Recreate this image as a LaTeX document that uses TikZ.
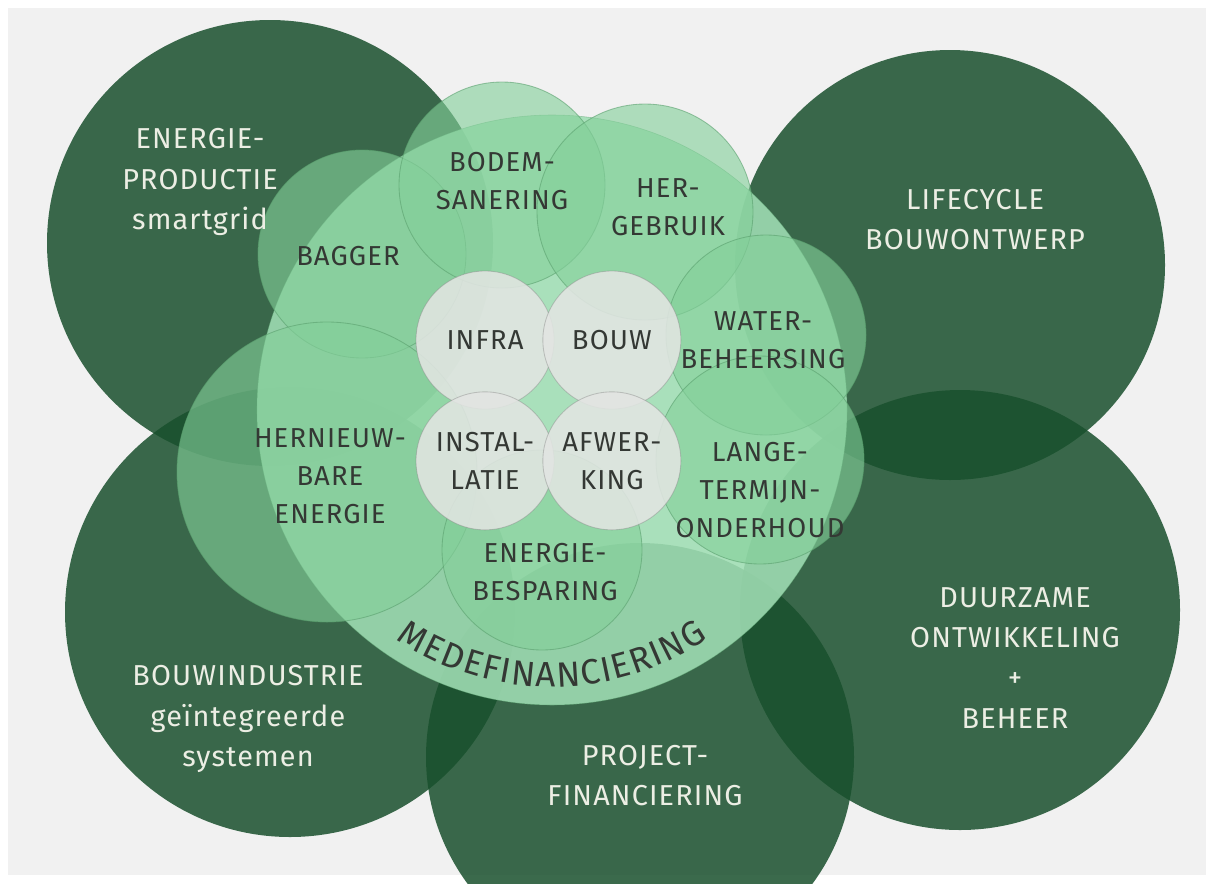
\documentclass[tikz,border=0pt]{standalone}
\usepackage{fontspec}
\setmainfont{Fira Sans}[LetterSpace=4]
\usepackage{tikz}
\usetikzlibrary{positioning,decorations.text}
\definecolor{bggrey}{RGB}{241,241,241}
\definecolor{darkgreen}{RGB}{25,80,45}
\definecolor{midgreen}{RGB}{132,208,154}
\definecolor{biggreen}{RGB}{160,222,180}
\definecolor{linegreen}{RGB}{90,160,110}
\definecolor{lightgrey}{RGB}{226,229,226}
\definecolor{txtdark}{RGB}{52,56,52}
\definecolor{txtlight}{RGB}{236,238,228}
\newcommand\lbl{\fontsize{19.5}{27}\selectfont}
\newcommand\lbll{\fontsize{20.5}{28.5}\selectfont}
\newcommand\mdfont{\fontsize{25}{30}\selectfont}
\tikzset{dark node/.style={circle,fill=darkgreen,fill opacity=0.85,minimum size=#1,inner sep=0pt},
	big node/.style={circle,fill=biggreen,fill opacity=0.88,draw=linegreen,draw opacity=0.5,minimum size=#1,inner sep=0pt},
	green node/.style={circle,fill=midgreen,fill opacity=0.62,draw=linegreen,draw opacity=0.6,line width=0.6pt,minimum size=#1,inner sep=0pt},
	grey node/.style={circle,fill=lightgrey,fill opacity=0.88,draw=gray,draw opacity=0.4,line width=0.6pt,minimum size=3.45cm,inner sep=0pt,text opacity=1,text=txtdark,font=\lbl,align=center},
	light txt/.style={text=txtlight,font=\lbll,align=center},
	dark txt/.style={text=txtdark,font=\lbl,align=center},
}

\begin{document}
\begin{tikzpicture}
			
			%% background
			\fill[white] (0,0) rectangle (30.35,-22.075);
			\useasboundingbox (0,0) rectangle (30.35,-22.075);
			\clip (0,0) rectangle (30.35,-22.075);
			\fill[bggrey] (0.2,-0.2) rectangle (30.15,-21.875);
			
			%% outer circles
			\node[dark node=11.15cm] (prod) at (6.75,-6.075) {};
			\node[dark node=10.75cm] (life) at (23.75,-6.625) {};
			\node[dark node=11.25cm] (ind) at (7.25,-15.3) {};
			\node[dark node=11cm] (duur) at (24,-15.25) {};
			\node[dark node=10.7cm] (proj) at (16,-18.925) {};
			
			%% medefinanciering
			\node[big node=14.75cm] (mede) at (13.8,-10.25) {};
			
			%% green circles
			\node[green node=5.2cm] (bagger) at (9.05,-6.35) {};
			\node[green node=5.15cm] (bodem) at (12.55,-4.625) {};
			\node[green node=5.4cm] (her) at (16.125,-5.3) {};
			\node[green node=5cm] (water) at (19.15,-8.375) {};
			\node[green node=5.2cm] (lange) at (19,-11.5) {};
			\node[green node=7.5cm] (hernieuw) at (8.175,-11.8) {};
			\node[green node=5cm] (besparing) at (13.55,-13.75) {};
			
			%% core
			\node[grey node] (infra) at (12.125,-8.5) {INFRA};
			\node[grey node] (bouw) [right = -0.3cm of infra] {BOUW};
			\node[grey node] (instal) [below = -0.45cm of infra] {INSTAL-\\LATIE};
			\node[grey node] (afwer) [right = -0.3cm of instal] {AFWER-\\KING};
			
			%% labels
			\node[light txt] (prodtxt) at (5,-4.55) {ENERGIE-\\PRODUCTIE\\smartgrid};
			\node[light txt] (lifetxt) at (24.375,-5.5) {LIFECYCLE\\BOUWONTWERP};
			\node[light txt] (indtxt) at (6.2,-17.975) {BOUWINDUSTRIE\\geïntegreerde\\systemen};
			\node[light txt] (duurtxt) at (25.375,-16.45) {DUURZAME\\ONTWIKKELING\\+\\BEHEER};
			\node[light txt] (projtxt) at (16.125,-19.4) {PROJECT-\\FINANCIERING};
			\node[dark txt] (baggertxt) at (8.7,-6.4) {BAGGER};
			\node[dark txt] (bodemtxt) at (12.55,-4.525) {BODEM-\\SANERING};
			\node[dark txt] (hertxt) at (16.7,-5.175) {HER-\\GEBRUIK};
			\node[dark txt] (watertxt) at (19.075,-8.5) {WATER-\\BEHEERSING};
			\node[dark txt] (hernieuwtxt) at (8.25,-11.9) {HERNIEUW-\\BARE\\ENERGIE};
			\node[dark txt] (langetxt) at (19,-12.25) {LANGE-\\TERMIJN-\\ONDERHOUD};
			\node[dark txt] (besparingtxt) at (13.625,-14.3) {ENERGIE-\\BESPARING};
			
			\path[decorate,decoration={text along path,text align=center,
				text={|\color{txtdark}\mdfont|M{\kern1pt}E{\kern1pt}D{\kern1pt}E{\kern1pt}F{\kern1pt}I{\kern1pt}N{\kern1pt}A{\kern1pt}N{\kern1pt}C{\kern1pt}I{\kern1pt}E{\kern1pt}R{\kern1pt}I{\kern1pt}N{\kern1pt}G}}]
			(mede.center) ++(220:6.925) arc[start angle=220,end angle=320,radius=6.925cm];
			
\end{tikzpicture}
\end{document}
